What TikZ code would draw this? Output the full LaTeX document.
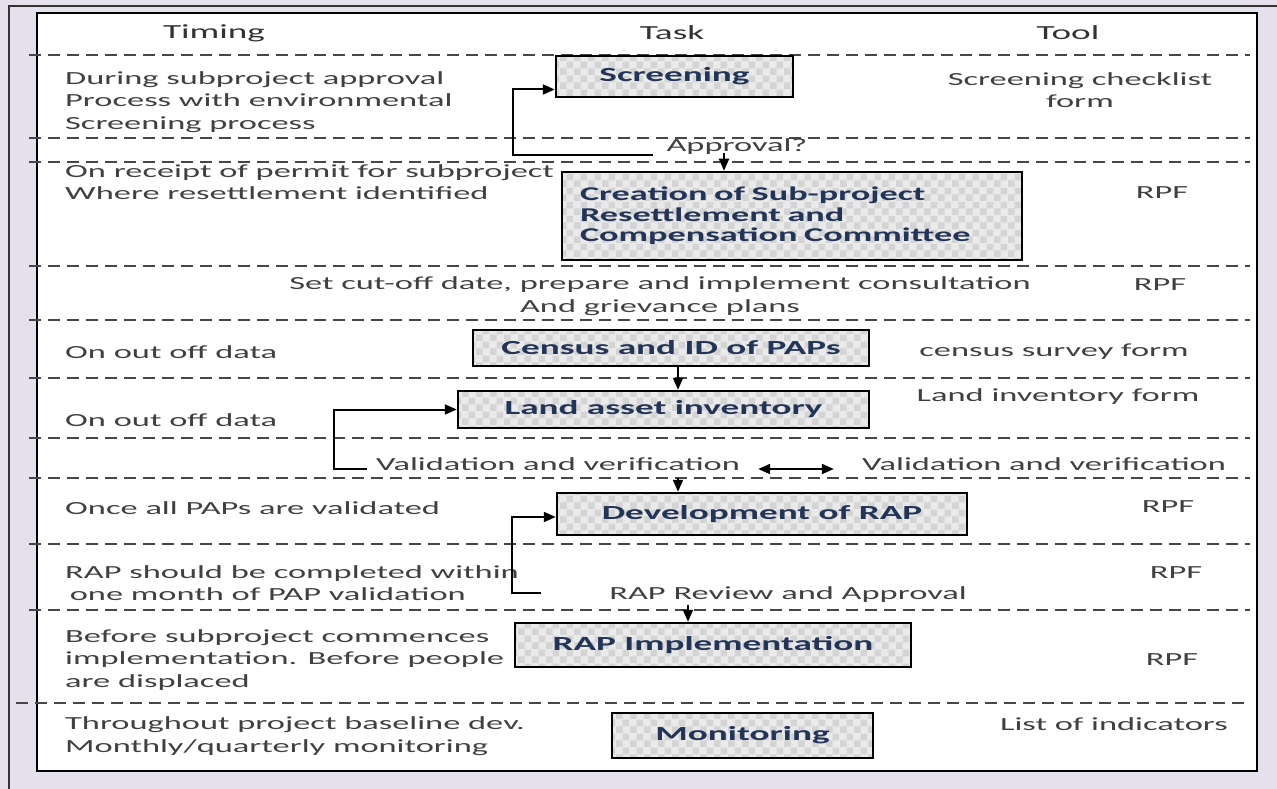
\documentclass[tikz,border=0pt]{standalone}
\usepackage{fontspec}
\setmainfont{Carlito}[FakeStretch=1.86]
\usetikzlibrary{arrows.meta}
\usetikzlibrary{patterns.meta}

\definecolor{bglilac}{RGB}{228,224,236}
\definecolor{txtgray}{RGB}{64,64,64}
\definecolor{boxnavy}{RGB}{34,52,88}
\definecolor{boxfill}{RGB}{234,234,234}
\definecolor{boxdots}{RGB}{212,212,212}
\definecolor{rulegray}{RGB}{70,70,70}

\pgfdeclarepattern{
  name=boxchecks, type=uncolored,
  bottom left={\pgfpoint{0pt}{0pt}},
  top right={\pgfpoint{14pt}{14pt}},
  tile size={\pgfpoint{14pt}{14pt}},
  code={
    \pgfpathrectangle{\pgfpoint{0pt}{0pt}}{\pgfpoint{7pt}{7pt}}
    \pgfpathrectangle{\pgfpoint{7pt}{7pt}}{\pgfpoint{7pt}{7pt}}
    \pgfusepath{fill}
  }
}

\begin{document}
\begin{tikzpicture}[
    x=1pt, y=-1pt,
    font=\fontsize{18.5}{22.5}\selectfont, text=txtgray,
    header/.style={font=\fontsize{20}{24}\selectfont,text=black!80,inner sep=0pt},
    taskbox/.style={draw=black,line width=2.5pt,
      preaction={fill=boxfill},
      preaction={pattern=boxchecks,pattern color=boxdots},
      text=boxnavy,font=\bfseries\fontsize{20}{21}\selectfont,inner sep=0pt},
    timing/.style={anchor=west,align=left,inner sep=0pt},
    tool/.style={align=center,inner sep=0pt},
    divider/.style={rulegray,line width=2.5pt,dash pattern=on 12pt off 7pt},
    arrow/.style={-{Triangle[length=12pt,width=10pt]},line width=2pt},
    twoway/.style={{Triangle[length=12pt,width=10pt]}-{Triangle[length=12pt,width=10pt]},line width=2pt}
]

\fill[bglilac] (0,0) rectangle (1277,789);
\useasboundingbox (0,0) rectangle (1277,789);

% frame
\draw[black!80,line width=2pt] (9,789) -- (9,6) -- (1277,6);
\draw[black,line width=2.2pt,fill=white] (37,13) rectangle (1257,771);

% headers
\node[header] (hTiming) at (214,33) {Timing};
\node[header] (hTask) at (672,33) {Task};
\node[header] (hTool) at (1068,33) {Tool};

% row dividers
\foreach \y in {55,138,162,266,320,378,438,478,544,610}
  \draw[divider] (29,\y) -- (1250,\y);
\draw[divider] (16,703) -- (1250,703);

% timing column
\node[timing] (tScreen) at (65,102) {During subproject approval\\Process with environmental\\Screening process};
\node[timing] (tCommittee) at (65,182) {On receipt of permit for subproject\\Where resettlement identified};
\node[timing] (tCensus) at (65,352) {On out off data};
\node[timing] (tLand) at (65,420) {On out off data};
\node[timing] (tDevelop) at (65,508) {Once all PAPs are validated};
\node[timing] (tReview) at (65,583) {RAP should be completed within\\\hspace*{0.25em}one month of PAP validation};
\node[timing] (tRap) at (65,660) {Before subproject commences\\implementation. Before people\\are displaced};
\node[timing] (tMonitor) at (65,736) {Throughout project baseline dev.\\Monthly/quarterly monitoring};

% task column
\node[taskbox,minimum width=237pt,minimum height=41pt] (screen) at (674.5,76.5) {Screening};
\node[taskbox,minimum width=460pt,minimum height=88pt,text width=424pt,align=left,
  font=\bfseries\fontsize{19.5}{20.5}\selectfont] (committee) at (792,216)
  {Creation of Sub-project\\Resettlement and\\Compensation Committee};
\node[taskbox,minimum width=396pt,minimum height=36pt] (census) at (671,348) {Census and ID of PAPs};
\node[taskbox,minimum width=411pt,minimum height=37pt] (land) at (663.5,409.5) {Land asset inventory};
\node[taskbox,minimum width=410pt,minimum height=42pt] (develop) at (762,514) {Development of RAP};
\node[taskbox,minimum width=396pt,minimum height=44pt] (rapimpl) at (713,645) {RAP Implementation};
\node[taskbox,minimum width=261pt,minimum height=45pt] (monitor) at (742.5,735.5) {Monitoring};

\node[tool] (approval) at (737,147) {Approval?};
\node[tool] (consult) at (660,296) {Set cut-off date, prepare and implement consultation\\And grievance plans};
\node[tool] (valid1) at (558,464) {Validation and verification};
\node[tool] (valid2) at (1044,464) {Validation and verification};
\node[tool] (review) at (788,595) {RAP Review and Approval};

% tool column
\node[tool] (tlScreen) at (1080,90) {Screening checklist\\form};
\node[tool] (tlCommittee) at (1162,193) {RPF};
\node[tool] (tlConsult) at (1160,285) {RPF};
\node[tool] (tlCensus) at (1054,352) {census survey form};
\node[tool] (tlLand) at (1058,397) {Land inventory form};
\node[tool] (tlDevelop) at (1168,507) {RPF};
\node[tool] (tlReview) at (1176,573) {RPF};
\node[tool] (tlRap) at (1172,660) {RPF};
\node[tool] (tlMonitor) at (1114,724) {List of indicators};

% connectors
\coordinate (apLoop) at (653,155);
\coordinate (apDown) at (724,153);
\coordinate (valLoop) at (367,469);
\coordinate (devIn) at (678,478);
\coordinate (revLoop) at (541,593);
\coordinate (rapIn) at (688,605);

\draw[arrow] (apLoop) -- ++(-140,0) |- ([yshift=-13pt]screen.west);
\draw[arrow] (apDown) -- (apDown |- committee.north);
\draw[arrow] ([xshift=7pt]census.south) -- ([xshift=7pt]census.south |- land.north);
\draw[arrow] (valLoop) -- ++(-33,0) |- (land.west);
\draw[twoway] ([shift={(18pt,-5pt)}]valid1.east) -- ([shift={(-28pt,-5pt)}]valid2.west);
\draw[arrow] (devIn) -- (devIn |- develop.north);
\draw[arrow] (revLoop) -- ++(-29,0) |- ([yshift=-3pt]develop.west);
\draw[arrow] (rapIn) -- (rapIn |- rapimpl.north);

\end{tikzpicture}
\end{document}
